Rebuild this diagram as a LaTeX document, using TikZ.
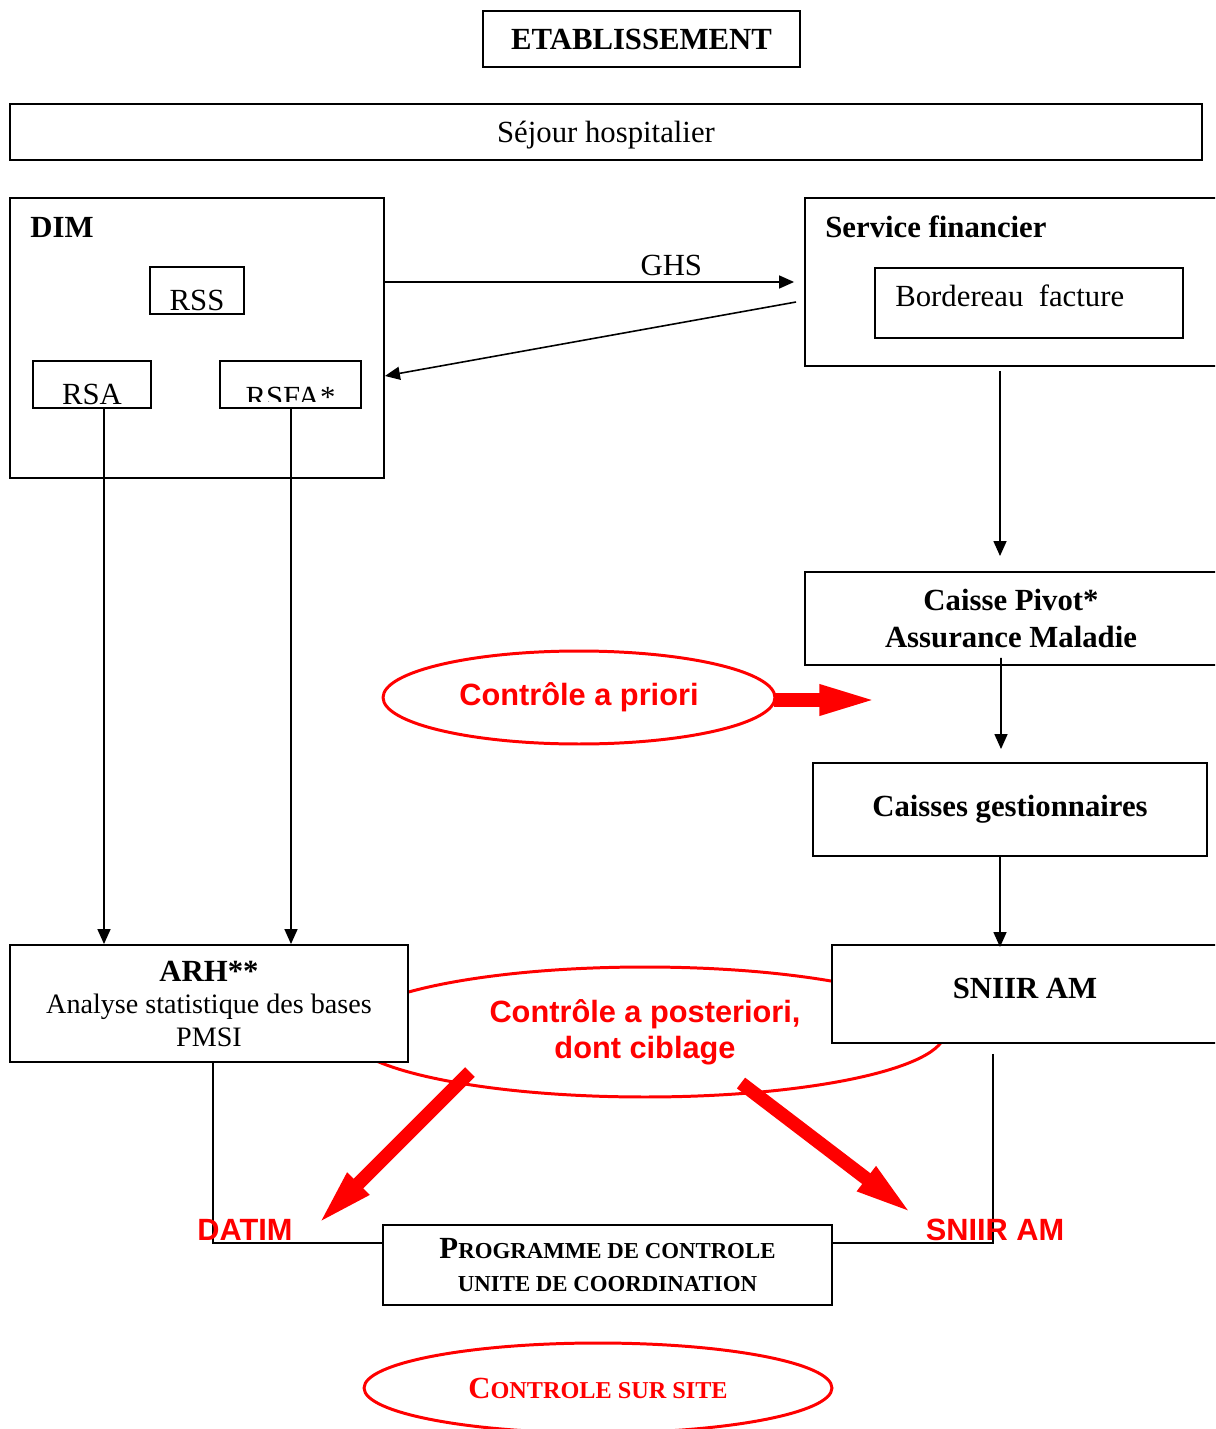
\documentclass[tikz,border=0pt]{standalone}
\usepackage{fontspec}
\setmainfont{Liberation Serif}
\newfontfamily\arialfont{Liberation Sans}
\usetikzlibrary{arrows.meta,shapes.geometric}
\definecolor{ctlred}{RGB}{255,0,0}
\newcommand\bigsz{\fontsize{17.5}{20.8}\selectfont}
\newcommand\pgmsmall[1]{{\fontsize{13}{18.7}\selectfont #1}}
\newcommand\sitesmall[1]{{\fontsize{13.8}{18.7}\selectfont #1}}

\begin{document}
\begin{tikzpicture}[x=0.02cm,y=-0.02cm,
  box/.style={draw, line width=1.1pt, fill=white, inner sep=0pt, align=center, font=\bigsz},
  arr/.style={line width=0.9pt, -{Triangle[length=0.3cm,width=0.26cm]}},
  redell/.style={draw=ctlred, line width=1.7pt, ellipse, inner sep=0pt, align=center, text=ctlred, font=\arialfont\bfseries\bigsz},
  bigarr/.style={ctlred, line width=0.27cm, -{Triangle[length=1.2cm,width=0.54cm]}},
  redlbl/.style={text=ctlred, font=\arialfont\bfseries\bigsz}]
\clip (0,0) rectangle (1215,1429);

% ellipse behind the boxes
\node[redell, minimum width=12cm, minimum height=2.6cm, font=\arialfont\bfseries\fontsize{17.5}{20.4}\selectfont] (apost) at (645,1032) {Contrôle a posteriori,\\dont ciblage};

% top
\node[box, minimum width=6.34cm, minimum height=1.12cm] (etab) at (641.5,39) {\textbf{ETABLISSEMENT}};
\node[box, minimum width=23.84cm, minimum height=1.12cm, text height=0.56cm, text depth=0.14cm] (sejour) at (606,132) {Séjour hospitalier};

% DIM
\node[box, minimum width=7.48cm, minimum height=5.6cm] (dim) at (197,338) {};
\node[anchor=base west, inner sep=0pt, font=\bigsz\bfseries] (dimlbl) at (30,238) {DIM};
\node[box, minimum width=1.88cm, minimum height=0.94cm] (rss) at (197,290.5) {};
\node[box, minimum width=2.36cm, minimum height=0.94cm] (rsa) at (92,384.5) {};
\node[box, minimum width=2.82cm, minimum height=0.94cm] (rsfa) at (290.5,384.5) {};
\node[anchor=base, font=\bigsz] (rsstxt) at (197,310.5) {RSS};
\node[anchor=base, font=\bigsz] (rsatxt) at (92,404) {RSA};
\begin{scope}
\clip (220,361) rectangle (361,401.5);
\node[anchor=base, font=\bigsz] (rsfatxt) at (290.5,407) {RSFA*};
\end{scope}

% Service financier
\node[box, minimum width=8.24cm, minimum height=3.36cm] (sf) at (1011,282) {};
\node[anchor=base west, inner sep=0pt, font=\bigsz\bfseries] (sflbl) at (825,238) {Service financier};
\node[box, minimum width=6.16cm, minimum height=1.4cm] (bord) at (1029,303) {};
\node[anchor=base west, inner sep=0pt, font=\bigsz] (bordtxt) at (895,307) {Bordereau~~facture};

% caisses
\node[box, minimum width=8.24cm, minimum height=1.86cm, font=\bigsz\bfseries] (pivot) at (1011,618.5) {Caisse Pivot*\\Assurance Maladie};
\node[box, minimum width=7.88cm, minimum height=1.86cm, font=\bigsz\bfseries] (cg) at (1010,809.5) {Caisses gestionnaires};
\node[box, minimum width=7.72cm, minimum height=1.96cm, font=\bigsz\bfseries, text depth=0.22cm] (sniir) at (1025,994) {SNIIR AM};

% ARH
\node[box, minimum width=7.96cm, minimum height=2.34cm, font=\fontsize{16}{18.5}\selectfont] (arh) at (209,1003.5)
  {{\fontsize{17.5}{18.5}\selectfont\textbf{ARH**}}\\Analyse statistique des bases\\PMSI};

% programme
\node[box, minimum width=8.98cm, minimum height=1.6cm, font=\fontsize{17.5}{18.7}\selectfont\bfseries] (prog) at (607.5,1265)
  {P\pgmsmall{ROGRAMME DE CONTROLE}\\\pgmsmall{UNITE DE COORDINATION}};

% controles
\node[redell, minimum width=7.84cm, minimum height=1.86cm] (apriori) at (579,697.5) {Contrôle a priori};
\node[redell, minimum width=9.36cm, minimum height=1.8cm, font=\bfseries\bigsz] (site) at (598,1388) {C\sitesmall{ONTROLE SUR SITE}};

% connecteurs
\draw[arr] ([yshift=1.12cm]dim.east) -- node[above, pos=0.7, font=\bigsz] (ghs) {GHS} ([xshift=-0.2cm]sf.west);
\draw[arr] ([xshift=-0.16cm,yshift=-0.4cm]sf.west) -- ([yshift=-0.76cm]dim.east);
\draw[arr] ([xshift=-0.22cm,yshift=-0.08cm]sf.south) -- ([xshift=-0.22cm,yshift=0.3cm]pivot.north);
\draw[arr] ([xshift=-0.2cm,yshift=0.16cm]pivot.south) -- ([xshift=-0.18cm,yshift=0.26cm]cg.north);
\coordinate (cgout) at ([xshift=-0.2cm]cg.south);
\draw[arr] (cgout) -- ([yshift=-0.06cm]cgout |- sniir.north);
\coordinate (rsaout) at ([xshift=0.24cm]rsa.south);
\coordinate (rsfaout) at ([xshift=0.01cm]rsfa.south);
\draw[arr] (rsaout) -- (rsaout |- arh.north);
\draw[arr] (rsfaout) -- (rsfaout |- arh.north);
\draw[line width=0.9pt] ([xshift=0.08cm]arh.south) |- ([yshift=0.44cm]prog.west);
\draw[line width=0.9pt] ([xshift=-0.64cm,yshift=-0.2cm]sniir.south) |- ([yshift=0.44cm]prog.east);

% fleches rouges
\coordinate (datimfrom) at (470,1072);
\coordinate (datimto) at (316,1226);
\coordinate (sniirfrom) at (741,1083);
\coordinate (sniirto) at (914,1215);
\draw[bigarr] ([xshift=-0.04cm,yshift=-0.05cm]apriori.east) -- ++(105,0);
\draw[bigarr] (datimfrom) -- (datimto);
\draw[bigarr] (sniirfrom) -- (sniirto);
\node[redlbl, anchor=base] (datim) at (245,1240) {DATIM};
\node[redlbl, anchor=base] (sniirred) at (995,1240) {SNIIR AM};
\end{tikzpicture}
\end{document}
